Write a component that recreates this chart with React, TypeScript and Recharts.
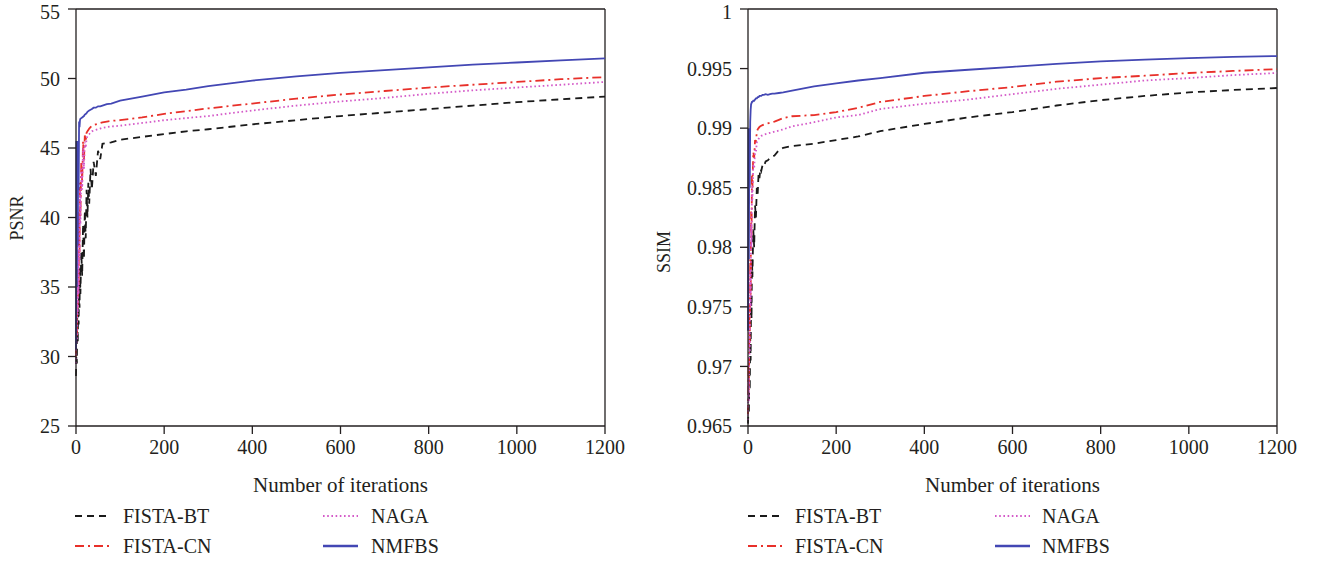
import React from 'react';
import {
  LineChart,
  Line,
  XAxis,
  YAxis,
  ReferenceLine,
} from 'recharts';

const iterations = [
  0, 1, 2, 3, 4, 5, 6, 7, 8, 9, 10, 12, 14, 16, 18, 20, 22, 24, 26, 28, 30, 33, 36, 40, 45, 50, 55, 60,
  70, 80, 100, 150, 200, 250, 300, 400, 500, 600, 700, 800, 900, 1000, 1100, 1200,
];
const xTicks = [0, 200, 400, 600, 800, 1000, 1200];

// PSNR panel
const psnrFistaBT = [
  28.6, 30.5, 29.5, 33.5, 31.0, 34.0, 32.3, 35.5, 33.5, 36.5, 34.5,
  37.5, 35.8, 39.5, 37.0, 40.5, 38.5, 42.0, 40.0, 42.5, 41.0,
  43.5, 42.0, 44.0, 43.0, 44.8, 44.2, 45.3,
  45.35, 45.4, 45.6,
  45.8, 46.0, 46.2, 46.35,
  46.7, 47.0, 47.3, 47.55, 47.8, 48.05, 48.3, 48.5, 48.7,
];
const psnrFistaCN = [
  30.0, 33.5, 31.5, 35.5, 33.5, 38.0, 35.0, 40.5, 37.5, 42.5, 40.0,
  44.0, 42.5, 45.5, 44.0, 45.9, 45.5, 46.1, 46.2, 46.3, 46.4,
  46.5, 46.6, 46.65, 46.7, 46.75, 46.8, 46.85,
  46.9, 46.95, 47.0,
  47.2, 47.45, 47.65, 47.85,
  48.2, 48.55, 48.85, 49.1, 49.35, 49.55, 49.75, 49.95, 50.1,
];
const psnrNaga = [
  29.5, 33.0, 31.0, 35.0, 33.0, 37.5, 34.5, 40.0, 37.0, 42.0, 39.5,
  43.5, 42.0, 45.0, 43.5, 45.4, 45.0, 45.7, 45.85, 45.95, 46.0,
  46.1, 46.2, 46.25, 46.3, 46.35, 46.4, 46.45,
  46.5, 46.55, 46.6,
  46.8, 47.0, 47.15, 47.3,
  47.7, 48.05, 48.35, 48.6, 48.9, 49.15, 49.35, 49.55, 49.75,
];
const psnrNmfbs = [
  30.5, 45.5, 35.0, 45.3, 38.0, 45.5, 42.0, 46.9, 46.5, 47.0, 47.1,
  47.15, 47.2, 47.25, 47.3, 47.4, 47.45, 47.5, 47.6, 47.65, 47.7,
  47.75, 47.8, 47.9, 47.9, 48.0, 48.0, 48.05,
  48.15, 48.2, 48.4,
  48.7, 49.0, 49.2, 49.45,
  49.85, 50.15, 50.4, 50.6, 50.8, 51.0, 51.15, 51.3, 51.45,
];
const psnrTicks = [25, 30, 35, 40, 45, 50, 55];

// SSIM panel
const ssimFistaBT = [
  0.9652, 0.9665, 0.966, 0.9695, 0.968, 0.9725, 0.9705, 0.976, 0.974, 0.979, 0.9775,
  0.9815, 0.98, 0.9835, 0.9825, 0.985, 0.9845, 0.9862, 0.9858, 0.9866, 0.9864,
  0.9869, 0.9868, 0.9872, 0.9873, 0.9875, 0.9876, 0.9877,
  0.98815, 0.98835, 0.9885,
  0.9887, 0.989, 0.9893, 0.98975,
  0.99035, 0.9909, 0.99135, 0.9919, 0.99235, 0.9927, 0.993, 0.9932, 0.99337,
];
const ssimFistaCN = [
  0.966, 0.97, 0.968, 0.9745, 0.972, 0.979, 0.976, 0.983, 0.981, 0.986, 0.985,
  0.988, 0.9875, 0.989, 0.9888, 0.9897, 0.9899, 0.99, 0.9901, 0.99015, 0.9902,
  0.99025, 0.9903, 0.99035, 0.9904, 0.99045, 0.9905, 0.99055,
  0.9907, 0.99085, 0.991,
  0.9911, 0.99135, 0.9917, 0.9922,
  0.9927, 0.9931, 0.99345, 0.9939, 0.9942, 0.9944, 0.99463, 0.9948, 0.99495,
];
const ssimNaga = [
  0.9655, 0.969, 0.967, 0.9735, 0.971, 0.978, 0.975, 0.982, 0.98, 0.985, 0.984,
  0.987, 0.9866, 0.9882, 0.988, 0.9888, 0.989, 0.9891, 0.9892, 0.9893, 0.98935,
  0.9894, 0.98945, 0.9895, 0.98955, 0.9896, 0.98965, 0.9897,
  0.9898, 0.9899, 0.99015,
  0.9905, 0.9909, 0.9911, 0.9916,
  0.99205, 0.9924, 0.99285, 0.9933, 0.99365, 0.994, 0.9942, 0.99445, 0.99463,
];
const ssimNmfbs = [
  0.973, 0.99, 0.979, 0.9895, 0.985, 0.9905, 0.9915, 0.992, 0.9921, 0.9922, 0.9922,
  0.9923, 0.9923, 0.9924, 0.9925, 0.9925, 0.9926, 0.9926, 0.9927, 0.9927, 0.9927,
  0.9928, 0.9928, 0.99285, 0.9928, 0.99285, 0.9929, 0.9929,
  0.99295, 0.993, 0.99315,
  0.9935, 0.99375, 0.994, 0.9942,
  0.99465, 0.9949, 0.99515, 0.9954, 0.9956, 0.99575, 0.99588, 0.99598, 0.99605,
];
const ssimTicks = [0.965, 0.97, 0.975, 0.98, 0.985, 0.99, 0.995, 1];

const FONT = '"Liberation Serif", "DejaVu Serif", serif';
const INK = '#231f20';

const SERIES = [
  { key: 'bt', name: 'FISTA-BT', color: '#1a1a1a', dash: '7 5', width: 1.8 },
  { key: 'cn', name: 'FISTA-CN', color: '#e8302a', dash: '9 4 2 4', width: 1.8 },
  { key: 'naga', name: 'NAGA', color: '#d45ac8', dash: '1.6 2.6', width: 1.8 },
  { key: 'nmfbs', name: 'NMFBS', color: '#4347b4', dash: undefined, width: 1.8 },
];

function buildRows(bt: number[], cn: number[], naga: number[], nmfbs: number[]) {
  return iterations.map((it, i) => ({ it, bt: bt[i], cn: cn[i], naga: naga[i], nmfbs: nmfbs[i] }));
}

const psnrRows = buildRows(psnrFistaBT, psnrFistaCN, psnrNaga, psnrNmfbs);
const ssimRows = buildRows(ssimFistaBT, ssimFistaCN, ssimNaga, ssimNmfbs);

const tickStyle = { fill: INK, fontSize: 20, fontFamily: FONT };

function Panel({ rows, ticks, left }: { rows: any[]; ticks: number[]; left: number }) {
  const yMin = ticks[0];
  const yMax = ticks[ticks.length - 1];
  return (
    <div style={{ position: 'absolute', left, top: 0 }}>
      <LineChart width={640} height={500} data={rows} margin={{ top: 9, right: 35, left: 10, bottom: 4 }}>
        <XAxis
          dataKey="it"
          type="number"
          domain={[0, 1200]}
          ticks={xTicks}
          tick={tickStyle}
          tickSize={8}
          tickMargin={6}
          height={70}
          stroke={INK}
          strokeWidth={1.3}
          label={{ value: 'Number of iterations', position: 'insideBottom', offset: 4, style: { fill: INK, fontSize: 21, fontFamily: FONT } }}
        />
        <YAxis
          type="number"
          domain={[yMin, yMax]}
          ticks={ticks}
          tick={tickStyle}
          tickSize={8}
          tickMargin={8}
          width={66}
          stroke={INK}
          strokeWidth={1.3}
          allowDataOverflow
        />
        <ReferenceLine y={yMax} stroke={INK} strokeWidth={1.3} />
        <ReferenceLine x={1200} stroke={INK} strokeWidth={1.3} />
        {SERIES.map((s) => (
          <Line
            key={s.key}
            type="linear"
            dataKey={s.key}
            stroke={s.color}
            strokeWidth={s.width}
            strokeDasharray={s.dash}
            dot={false}
            isAnimationActive={false}
          />
        ))}
      </LineChart>
    </div>
  );
}

function YTitle({ x, y, text }: { x: number; y: number; text: string }) {
  return (
    <text
      x={x}
      y={y}
      transform={`rotate(-90 ${x} ${y})`}
      textAnchor="middle"
      dominantBaseline="central"
      fontSize={18}
      fontFamily={FONT}
      fill={INK}
    >
      {text}
    </text>
  );
}

function LegendBlock({ x0, x1, textGap, top }: { x0: number; x1: number; textGap: number; top: number }) {
  const rows = [
    [SERIES[0], SERIES[2]],
    [SERIES[1], SERIES[3]],
  ];
  const ys = [top + 21, top + 51];
  return (
    <g>
      {rows.map((pair, r) =>
        pair.map((s, c) => {
          const x = c === 0 ? x0 : x1;
          return (
            <g key={s.key}>
              <line
                x1={x}
                x2={x + 35}
                y1={ys[r]}
                y2={ys[r]}
                stroke={s.color}
                strokeWidth={s.key === 'nmfbs' ? 2.4 : 1.8}
                strokeDasharray={s.dash}
              />
              <text x={x + textGap} y={ys[r]} dominantBaseline="central" fontSize={20} fontFamily={FONT} fill={INK}>
                {s.name}
              </text>
            </g>
          );
        })
      )}
    </g>
  );
}

export default function App() {
  return (
    <div style={{ position: 'absolute', left: 0, top: 0, width: 1317, height: 562, background: '#fff', overflow: 'hidden' }}>
      <Panel rows={psnrRows} ticks={psnrTicks} left={0} />
      <Panel rows={ssimRows} ticks={ssimTicks} left={672} />
      <svg style={{ position: 'absolute', left: 0, top: 0, pointerEvents: 'none' }} width={1317} height={562}>
        <YTitle x={17} y={218} text="PSNR" />
        <YTitle x={664} y={252} text="SSIM" />
        <LegendBlock x0={75} x1={323} textGap={48} top={495} />
        <LegendBlock x0={748} x1={995} textGap={47} top={495} />
      </svg>
    </div>
  );
}
